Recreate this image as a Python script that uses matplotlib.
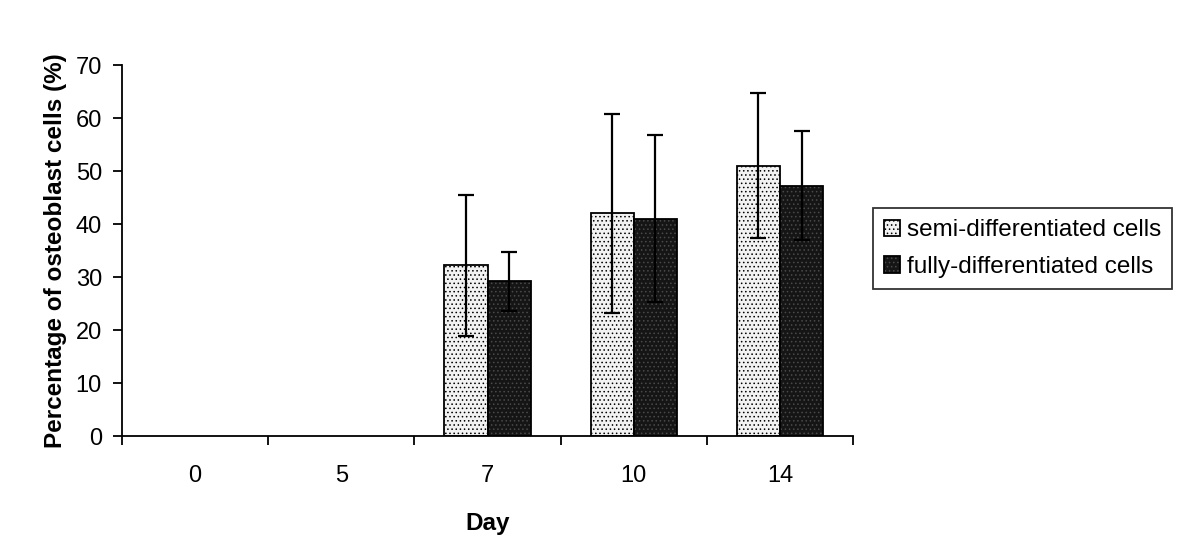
import matplotlib
matplotlib.use("Agg")
import matplotlib.pyplot as plt
import numpy as np

days = ["0", "5", "7", "10", "14"]
semi = [0, 0, 32.2, 42.0, 51.0]
semi_err = [0, 0, 13.3, 18.8, 13.7]
fully = [0, 0, 29.2, 41.0, 47.2]
fully_err = [0, 0, 5.6, 15.8, 10.3]

plt.rcParams['font.family'] = ['Liberation Sans', 'DejaVu Sans']
plt.rcParams['hatch.linewidth'] = 0.6

fig = plt.figure(figsize=(12, 5.58), dpi=100)
ax = fig.add_axes([0.1017, 0.2186, 0.6092, 0.6649])

x = np.arange(len(days))
w = 0.295
mask = np.array(semi) > 0
plt.rcParams['hatch.color'] = '#9a9a9a'
b1 = ax.bar(x[mask] - w / 2, np.array(semi)[mask], w, facecolor='#f2f2f2',
            edgecolor='black', linewidth=1.3, hatch='....',
            label='semi-differentiated cells', zorder=2)
b2 = ax.bar(x[mask] + w / 2, np.array(fully)[mask], w, facecolor='#151515',
            edgecolor='black', linewidth=1.3, hatch='....',
            label='fully-differentiated cells', zorder=2)
for b in b2:
    b._hatch_color = matplotlib.colors.to_rgba('#4a4a4a')
ax.errorbar(x[mask] - w / 2, np.array(semi)[mask], yerr=np.array(semi_err)[mask],
            fmt='none', ecolor='black', elinewidth=1.6, capsize=6, capthick=1.6, zorder=3)
ax.errorbar(x[mask] + w / 2, np.array(fully)[mask], yerr=np.array(fully_err)[mask],
            fmt='none', ecolor='black', elinewidth=1.6, capsize=6, capthick=1.6, zorder=3)

ax.set_xlim(-0.5, len(days) - 0.5)
ax.set_ylim(0, 70)
ax.set_yticks(np.arange(0, 71, 10))
ax.set_xticks(x)
ax.set_xticklabels(days)
ax.set_xticks(np.arange(-0.5, len(days), 1), minor=True)
ax.tick_params(axis='x', which='major', length=0, labelsize=17, pad=21)
ax.tick_params(axis='x', which='minor', length=6.5, width=1.3, direction='out')
ax.tick_params(axis='y', length=6.5, width=1.3, direction='out', labelsize=17, pad=8)
for s in ['top', 'right']:
    ax.spines[s].set_visible(False)
for s in ['left', 'bottom']:
    ax.spines[s].set_linewidth(1.3)

ax.set_ylabel('Percentage of osteoblast cells (%)', fontsize=17.5, fontweight='bold', labelpad=6)
ax.set_xlabel('Day', fontsize=17.5, fontweight='bold', labelpad=18)

leg = ax.legend(loc='center left', bbox_to_anchor=(1.027, 0.505), fontsize=17.5,
                frameon=True, fancybox=False, edgecolor='black', handlelength=0.65,
                handleheight=0.65, handletextpad=0.3, borderpad=0.45, labelspacing=0.6,
                borderaxespad=0)
leg.get_frame().set_linewidth(1.3)

fig.savefig('out.png', dpi=100)
